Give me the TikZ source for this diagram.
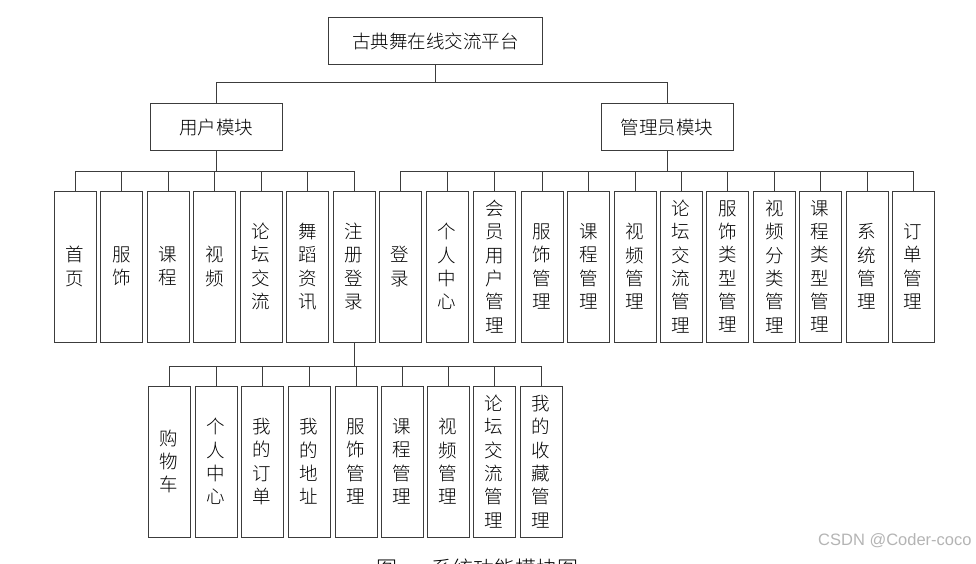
\documentclass[tikz,border=0pt]{standalone}
\usepackage{fontspec}
\IfFontExistsTF{Noto Sans CJK SC Light}
  {\newfontfamily\cjk{Noto Sans CJK SC Light}}
  {\newfontfamily\cjk{Noto Sans CJK SC}}
\setsansfont{Liberation Sans}
\definecolor{linec}{HTML}{3C3C3C}
\definecolor{wmark}{HTML}{B4B4B4}
\begin{document}
\begin{tikzpicture}[x=1pt,y=-1pt,
  every path/.style={draw=linec,line width=0.9pt},
  wide/.style={draw=linec,line width=1pt,minimum height=47pt,inner sep=0pt,
    font=\cjk\fontsize{18.5}{23.3}\selectfont},
  col/.style={draw=linec,line width=1pt,minimum width=42pt,minimum height=151pt,
    inner sep=0pt,align=center,font=\cjk\fontsize{18.5}{23.3}\selectfont}]
\useasboundingbox[draw=none] (0,0) rectangle (976,564);
\coordinate (b0) at (0,82);
\coordinate (b1) at (0,171);
\coordinate (b2) at (0,366);
% top levels
\node[wide,minimum width=214pt] (top) at (435.5,41.5) {古典舞在线交流平台};
\node[wide,minimum width=132pt] (um) at (216,127.5) {用户模块};
\node[wide,minimum width=132pt] (am) at (667,127.5) {管理员模块};
% user children
\node[col] (u1) at (75.2,266.5) {首\\页};
\node[col] (u2) at (121.7,266.5) {服\\饰};
\node[col] (u3) at (168.2,266.5) {课\\程};
\node[col] (u4) at (214.7,266.5) {视\\频};
\node[col] (u5) at (261.2,266.5) {论\\坛\\交\\流};
\node[col] (u6) at (307.7,266.5) {舞\\蹈\\资\\讯};
\node[col] (u7) at (354.2,266.5) {注\\册\\登\\录};
% admin children
\node[col] (a1) at (400,266.5) {登\\录};
\node[col] (a2) at (447,266.5) {个\\人\\中\\心};
\node[col] (a3) at (494.5,266.5) {会\\员\\用\\户\\管\\理};
\node[col] (a4) at (542,266.5) {服\\饰\\管\\理};
\node[col] (a5) at (588.5,266.5) {课\\程\\管\\理};
\node[col] (a6) at (635,266.5) {视\\频\\管\\理};
\node[col] (a7) at (681,266.5) {论\\坛\\交\\流\\管\\理};
\node[col] (a8) at (727.5,266.5) {服\\饰\\类\\型\\管\\理};
\node[col] (a9) at (774.5,266.5) {视\\频\\分\\类\\管\\理};
\node[col] (a10) at (820,266.5) {课\\程\\类\\型\\管\\理};
\node[col] (a11) at (867,266.5) {系\\统\\管\\理};
\node[col] (a12) at (913,266.5) {订\\单\\管\\理};
% sub children of 注册登录
\node[col] (s1) at (169,461.5) {购\\物\\车};
\node[col] (s2) at (216,461.5) {个\\人\\中\\心};
\node[col] (s3) at (262,461.5) {我\\的\\订\\单};
\node[col] (s4) at (309,461.5) {我\\的\\地\\址};
\node[col] (s5) at (356,461.5) {服\\饰\\管\\理};
\node[col] (s6) at (402,461.5) {课\\程\\管\\理};
\node[col] (s7) at (448,461.5) {视\\频\\管\\理};
\node[col] (s8) at (494,461.5) {论\\坛\\交\\流\\管\\理};
\node[col] (s9) at (541,461.5) {我\\的\\收\\藏\\管\\理};
% connectors level 0
\draw (top.south) -- (top.south|-b0);
\draw (um.north) -- (um.north|-b0) -- (am.north|-b0) -- (am.north);
% user module
\draw (um.south) -- (um.south|-b1);
\draw (u1.north|-b1) -- (u7.north|-b1);
\foreach \i in {1,...,7} \draw (u\i.north) -- (u\i.north|-b1);
% admin module
\draw (am.south) -- (am.south|-b1);
\draw (a1.north|-b1) -- (a12.north|-b1);
\foreach \i in {1,...,12} \draw (a\i.north) -- (a\i.north|-b1);
% register sub
\draw (u7.south) -- (u7.south|-b2);
\draw (s1.north|-b2) -- (s9.north|-b2);
\foreach \i in {1,...,9} \draw (s\i.north) -- (s\i.north|-b2);
% caption (cut off by the page edge, as in the reference)
\node[draw=none,anchor=north west,inner sep=0pt,font=\cjk\fontsize{21}{21}\selectfont] (cap) at (376,558.5) {图\hspace{34pt}系统功能模块图};
% watermark
\node[draw=none,anchor=base east,inner sep=0pt,text=wmark,font=\sffamily\fontsize{16.5}{16.5}\selectfont] (wm) at (972,545) {CSDN @Coder-coco};
\end{tikzpicture}
\end{document}
